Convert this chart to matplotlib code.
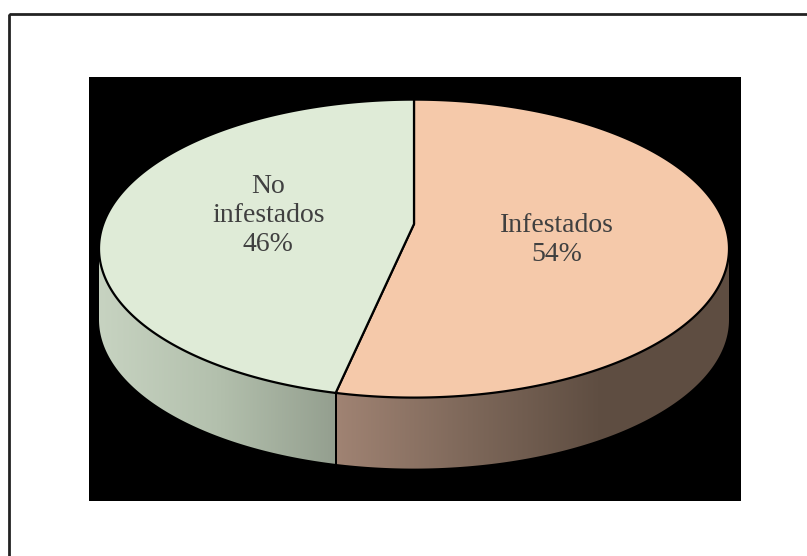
import numpy as np
import matplotlib.pyplot as plt
from matplotlib.patches import Polygon, Rectangle
from matplotlib.colors import LinearSegmentedColormap

# ---------- data ----------
labels = ["Infestados", "No\ninfestados"]
values = [54, 46]
top_colors = ["#F5C9AA", "#DFEBD7"]
side_colors = [
    ["#A08373", "#7E685A", "#5F4E42", "#5E4D41"],
    ["#C7D3C1", "#B3C0AD", "#949F8F"],
]

# ---------- geometry (pixels) ----------
W, H = 807, 556
CX, CY = 414, 248.6      # centre of top ellipse
A, B = 315, 149          # semi axes
DEPTH = 71               # thickness of the pie
PX, PY = 414, 224        # wedge apex (perspective centre)
LABEL_R = 0.45
label_dx = [2, -5]
label_dy = [8, 0]


def ellipse_pts(t_deg, dy=0.0):
    t = np.radians(t_deg)
    return CX + A * np.cos(t), CY - B * np.sin(t) + dy


fig = plt.figure(figsize=(W / 100, H / 100), dpi=100)
ax = fig.add_axes([0, 0, 1, 1])
ax.set_xlim(0, W)
ax.set_ylim(H, 0)
ax.axis("off")

# outer frame + black plot area
ax.add_patch(Rectangle((9, 14), W, H, fill=False, edgecolor="#222222", lw=2))
ax.add_patch(Rectangle((89, 77), 652, 424, facecolor="black", edgecolor="none"))

# slice angles: start at 12 o'clock, clockwise
total = float(sum(values))
spans = []
start = 90.0
for v in values:
    end = start - v / total * 360.0
    spans.append((end, start))
    start = end

# sides (front half only: -180..0 deg)
for (t1, t2), cols in zip(spans, side_colors):
    a0, a1 = max(t1, -180), min(t2, 0)
    if a0 >= a1:
        a0, a1 = max(t1 + 360, 180) - 360, min(t2 + 360, 360) - 360
    if a0 >= a1:
        continue
    tt = np.linspace(a0, a1, 200)
    xt, yt = ellipse_pts(tt)
    xb, yb = ellipse_pts(tt[::-1], DEPTH)
    verts = np.column_stack([np.r_[xt, xb], np.r_[yt, yb]])
    poly = Polygon(verts, closed=True, facecolor="none", edgecolor="none")
    ax.add_patch(poly)
    cmap = LinearSegmentedColormap.from_list("side", cols)
    grad = np.linspace(0, 1, 256)[None, :]
    im = ax.imshow(grad, cmap=cmap, aspect="auto",
                   extent=(xt.min(), xt.max(), yb.max() + 2, yt.min() - 2),
                   interpolation="bilinear", zorder=2)
    im.set_clip_path(poly)
    # seam lines
    for a in (a0, a1):
        if -179 < a < -1:
            x0, y0 = ellipse_pts(a)
            x1, y1 = ellipse_pts(a, DEPTH)
            ax.plot([x0, x1], [y0, y1], color="black", lw=1.4, zorder=3)

# top wedges
for (t1, t2), col in zip(spans, top_colors):
    tt = np.linspace(t1, t2, 300)
    xs, ys = ellipse_pts(tt)
    verts = np.column_stack([np.r_[PX, xs], np.r_[PY, ys]])
    ax.add_patch(Polygon(verts, closed=True, facecolor=col,
                         edgecolor="black", lw=1.6, joinstyle="miter", zorder=4))

# labels
for (t1, t2), lab, v, dx, dy in zip(spans, labels, values, label_dx, label_dy):
    m = np.radians((t1 + t2) / 2)
    lx = PX + LABEL_R * A * np.cos(m) + dx
    ly = PY - LABEL_R * B * np.sin(m) + dy
    ax.text(lx, ly, f"{lab}\n{v / total:.0%}", ha="center", va="center",
            fontsize=20, family="Liberation Serif", color="#404040",
            linespacing=1.22, zorder=5)

ax.set_xlim(0, W)
ax.set_ylim(H, 0)
fig.savefig("out.png", dpi=100)
